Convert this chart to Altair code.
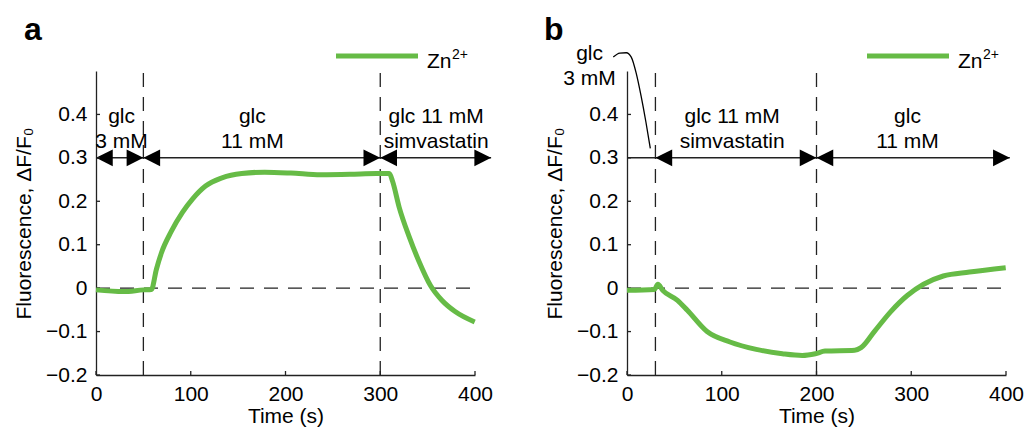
import altair as alt
import pandas as pd

FONT = "Liberation Sans"
FS = 21
GREEN = "#66bb46"
DARK = "#222222"
W, H = 379, 304

# ---- data: panel a (Zn2+ trace) ----
a_time = [0, 29, 50, 58.5, 63.7, 69, 79.3, 91.4, 101.8, 115.6, 133, 153.8, 178,
          205.7, 236.9, 268, 295.8, 309.6, 313, 320, 330.4, 340.8, 353, 365, 379, 399.7]
a_zn = [-0.004, -0.008, -0.004, -0.003, 0.043, 0.081, 0.13, 0.175, 0.205, 0.235, 0.254,
        0.264, 0.267, 0.265, 0.261, 0.262, 0.264, 0.264, 0.246, 0.186, 0.119, 0.062,
        0.006, -0.028, -0.054, -0.078]

# ---- data: panel b (Zn2+ trace) ----
b_time = [0, 29, 32.6, 37.7, 53.3, 63.7, 84.5, 108.7, 136.4, 164, 184.9, 198.8, 209,
          240.3, 247, 261, 278.4, 295.8, 313, 333.8, 361.5, 399.7]
b_zn = [-0.005, -0.003, 0.009, -0.005, -0.028, -0.051, -0.1, -0.124, -0.141, -0.151,
        -0.155, -0.151, -0.145, -0.143, -0.137, -0.1, -0.054, -0.017, 0.009, 0.028,
        0.037, 0.047]

legend_base = "Zn"
legend_sup = "2+"

# solution switch times (dashed verticals)
a_switch = [50, 300]
b_switch = [30, 200]

# arrows at y = 0.3
arrow_y = 0.3
a_span = [0, 417]
a_left_tips = [0, 50, 300]
a_right_tips = [50, 300, 417]
b_span = [0, 404]
b_left_tips = [30, 200]
b_right_tips = [200, 404]

# condition labels
label_y1, label_y2 = 0.38, 0.323
a_lab_x = [27, 165, 359]
a_lab_1 = ["glc", "glc", "glc 11 mM"]
a_lab_2 = ["3 mM", "11 mM", "simvastatin"]
b_lab_x = [111, 296]
b_lab_1 = ["glc 11 mM", "glc"]
b_lab_2 = ["simvastatin", "11 mM"]

# panel b call-out for the short glc 3 mM period
b_note_x = [-39.5, -39.5]
b_note_y = [0.526, 0.468]
b_note_text = ["glc", "3 mM"]
callout_x = [-14.5, -7.6, -0.7, 4.5, 9.7, 14.9, 20, 24.6]
callout_y = [0.532, 0.541, 0.542, 0.532, 0.495, 0.442, 0.382, 0.322]

x_ticks = [0, 100, 200, 300, 400]
y_ticks = [-0.2, -0.1, 0, 0.1, 0.2, 0.3, 0.4]

LEFT_PATH = "M0,0L2,-1L2,1Z"
RIGHT_PATH = "M0,0L-2,-1L-2,1Z"


def one(**kw):
    return pd.DataFrame({k: [v] for k, v in kw.items()})


def panel(letter, letter_dx, time, zn, switches, span, lefts, rights, lab_x, lab1, lab2, extra=None):
    xs = alt.Scale(domain=[0, 400], nice=False, zero=False)
    ys = alt.Scale(domain=[-0.2, 0.5], nice=False, zero=False)
    xaxis = alt.Axis(values=x_ticks, format="d", title="Time (s)", ticks=False, grid=False,
                     domainColor=DARK, domainWidth=1.3, labelFont=FONT, labelFontSize=FS,
                     labelColor="black", labelPadding=8, labelFlush=False, labelOverlap=False,
                     titleFont=FONT, titleFontSize=FS, titleFontWeight="normal",
                     titleColor="black", titlePadding=1)
    yaxis = alt.Axis(values=y_ticks, format="~g", title="Fluorescence, ΔF/F₀", ticks=False,
                     grid=False, domainColor=DARK, domainWidth=1.3, labelFont=FONT,
                     labelFontSize=FS, labelColor="black", labelPadding=9, labelOverlap=False,
                     titleFont=FONT, titleFontSize=FS, titleFontWeight="normal",
                     titleColor="black", titlePadding=11)

    trace_df = pd.DataFrame({"t": time, "v": zn})
    trace = alt.Chart(trace_df).mark_line(strokeWidth=5, color=GREEN,
                                          interpolate="monotone").encode(
        x=alt.X("t:Q", scale=xs, axis=xaxis),
        y=alt.Y("v:Q", scale=ys, axis=yaxis),
    )

    zero = alt.Chart(one(x0=0, x1=400, y0=0)).mark_rule(
        color=DARK, strokeWidth=1.3, strokeDash=[14, 10]).encode(
        x="x0:Q", x2="x1:Q", y="y0:Q")

    vlines = alt.Chart(pd.DataFrame({"sw": switches})).mark_rule(
        color=DARK, strokeWidth=1.3, strokeDash=[14, 10]).encode(
        x="sw:Q", y=alt.datum(-0.2), y2=alt.datum(0.5))

    aline = alt.Chart(one(x0=span[0], x1=span[1], y0=arrow_y)).mark_rule(
        color=DARK, strokeWidth=1.5).encode(x="x0:Q", x2="x1:Q", y="y0:Q")

    tips_df = pd.DataFrame({"x": lefts + rights,
                            "y": [arrow_y] * (len(lefts) + len(rights)),
                            "d": ["left"] * len(lefts) + ["right"] * len(rights)})
    tips = alt.Chart(tips_df).mark_point(filled=True, size=280, opacity=1, color="black",
                                         strokeWidth=0).encode(
        x="x:Q", y="y:Q",
        shape=alt.Shape("d:N", scale=alt.Scale(domain=["left", "right"],
                                               range=[LEFT_PATH, RIGHT_PATH]), legend=None))

    lab_df = pd.DataFrame({"x": lab_x, "l1": lab1, "l2": lab2,
                           "y1": [label_y1] * len(lab_x), "y2": [label_y2] * len(lab_x)})
    txt1 = alt.Chart(lab_df).mark_text(font=FONT, fontSize=FS, align="center",
                                       baseline="alphabetic", color="black").encode(
        x="x:Q", y="y1:Q", text="l1:N")
    txt2 = alt.Chart(lab_df).mark_text(font=FONT, fontSize=FS, align="center",
                                       baseline="alphabetic", color="black").encode(
        x="x:Q", y="y2:Q", text="l2:N")

    ytk = alt.Chart(pd.DataFrame({"yt": y_ticks})).mark_rule(color=DARK, strokeWidth=1.3).encode(
        y="yt:Q", x=alt.value(0), x2=alt.value(4))
    xtk = alt.Chart(pd.DataFrame({"xt": x_ticks})).mark_rule(color=DARK, strokeWidth=1.3).encode(
        x="xt:Q", y=alt.value(H), y2=alt.value(H - 4))

    let = alt.Chart(one(l=letter)).mark_text(
        font=FONT, fontSize=32, fontWeight="bold", align="left", baseline="alphabetic",
        color="black").encode(text="l:N", x=alt.value(letter_dx), y=alt.value(-31))

    # legend (line + Zn with superscript 2+)
    leg_line = alt.Chart(one(k=1)).mark_rule(color=GREEN, strokeWidth=5).encode(
        x=alt.value(240), x2=alt.value(322), y=alt.value(-15))
    leg_txt = alt.Chart(one(l=legend_base)).mark_text(
        font=FONT, fontSize=FS, align="left", baseline="alphabetic", color="black").encode(
        text="l:N", x=alt.value(331), y=alt.value(-3))
    leg_sup = alt.Chart(one(l=legend_sup)).mark_text(
        font=FONT, fontSize=14, align="left", baseline="alphabetic", color="black").encode(
        text="l:N", x=alt.value(356), y=alt.value(-12))

    layers = [zero, vlines, aline, tips, txt1, txt2, ytk, xtk, let, leg_line, leg_txt,
              leg_sup] + (extra or []) + [trace]
    return alt.layer(*layers).properties(width=W, height=H)


note_df = pd.DataFrame({"x": b_note_x, "y": b_note_y, "l": b_note_text})
note = alt.Chart(note_df).mark_text(font=FONT, fontSize=FS, align="center",
                                    baseline="alphabetic", color="black").encode(
    x="x:Q", y="y:Q", text="l:N")
curve_df = pd.DataFrame({"x": callout_x, "y": callout_y})
curve = alt.Chart(curve_df).mark_line(color="black", strokeWidth=1.3,
                                      interpolate="monotone").encode(x="x:Q", y="y:Q")

pa = panel("a", -72, a_time, a_zn, a_switch, a_span, a_left_tips, a_right_tips,
           a_lab_x, a_lab_1, a_lab_2)
pb = panel("b", -83, b_time, b_zn, b_switch, b_span, b_left_tips, b_right_tips,
           b_lab_x, b_lab_1, b_lab_2, extra=[note, curve])

chart = alt.hconcat(pa, pb, spacing=152, bounds="flush").properties(
    padding={"left": 5, "top": 6, "right": 0, "bottom": 1}).configure_view(strokeWidth=0)

chart.save("out.html", embed_options={"renderer": "svg", "actions": False})
